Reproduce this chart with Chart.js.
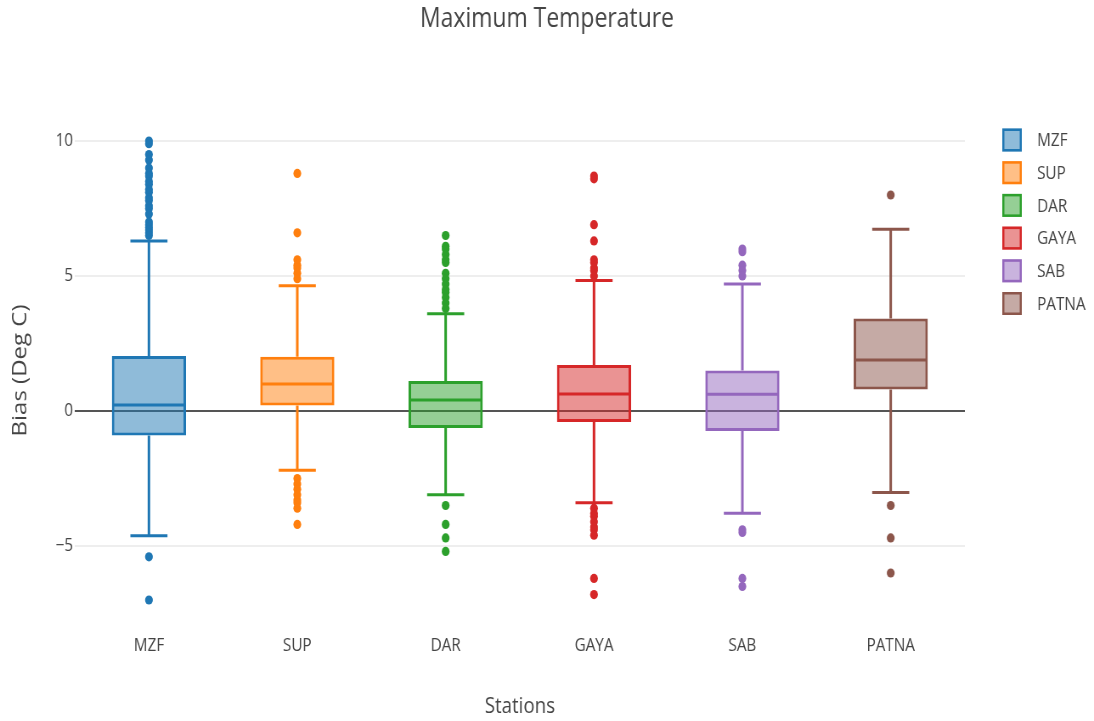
<!DOCTYPE html>
<html>
<head>
<meta charset="utf-8">
<script src="https://cdn.jsdelivr.net/npm/chart.js@4.4.1/dist/chart.umd.min.js"></script>
<style>
  html, body { margin: 0; padding: 0; background: #ffffff; }
  #chart { display: block; width: 1094px; height: 721px; }
</style>
</head>
<body>
<canvas id="chart" width="1288" height="721" style="width:1094px;height:721px"></canvas>
<script>
// Stations and their colours
const stations = ['MZF', 'SUP', 'DAR', 'GAYA', 'SAB', 'PATNA'];
const lineColors = ['#1f77b4', '#ff7f0e', '#2ca02c', '#d62728', '#9467bd', '#8c564b'];
const fillColors = ['rgba(31,119,180,0.5)', 'rgba(255,127,14,0.5)', 'rgba(44,160,44,0.5)',
                    'rgba(214,39,40,0.5)', 'rgba(148,103,189,0.5)', 'rgba(140,86,75,0.5)'];

// Box statistics (bias, deg C)
const lowerFence = [-4.62, -2.19, -3.10, -3.40, -3.79, -3.02];
const q1         = [-0.91,  0.20, -0.63, -0.41, -0.74,  0.80];
const median     = [ 0.22,  1.00,  0.41,  0.63,  0.62,  1.89];
const q3         = [ 2.04,  2.01,  1.11,  1.70,  1.50,  3.43];
const upperFence = [ 6.30,  4.64,  3.60,  4.83,  4.70,  6.73];

// Outlying points per station
const outliersMZF   = [10.0, 9.9, 9.5, 9.3, 9.0, 8.8, 8.7, 8.5, 8.4, 8.2, 8.1, 7.9, 7.8, 7.6, 7.5, 7.3,
                       7.0, 6.9, 6.8, 6.7, 6.6, 6.5, -5.4, -7.0];
const outliersSUP   = [8.8, 6.6, 5.6, 5.4, 5.3, 5.1, 4.9, -2.5, -2.7, -2.9, -3.1, -3.3, -3.4, -3.6, -4.2];
const outliersDAR   = [6.5, 6.1, 6.0, 5.8, 5.6, 5.5, 5.1, 4.9, 4.7, 4.5, 4.4, 4.2, 4.0, 3.8,
                       -3.5, -4.2, -4.7, -5.2];
const outliersGAYA  = [8.7, 8.6, 6.9, 6.3, 5.6, 5.5, 5.3, 5.2, 5.0, -3.6, -3.8, -3.9, -4.1, -4.3,
                       -4.4, -4.6, -6.2, -6.8];
const outliersSAB   = [6.0, 5.9, 5.4, 5.2, 5.0, -4.4, -4.5, -6.2, -6.5];
const outliersPATNA = [8.0, -3.5, -4.7, -6.0];
const outliers = [outliersMZF, outliersSUP, outliersDAR, outliersGAYA, outliersSAB, outliersPATNA];

const yTicks = [-5, 0, 5, 10];

Chart.defaults.font.family = '"Open Sans", "Noto Sans", sans-serif';
Chart.defaults.color = '#444444';

// Boxes: floating bars from q1 to q3, one dataset per station
const boxDatasets = stations.map((name, i) => ({
  type: 'bar',
  label: name,
  stationIndex: i,
  data: stations.map((_, j) => (j === i ? [q1[i], q3[i]] : null)),
  backgroundColor: fillColors[i],
  borderColor: lineColors[i],
  borderWidth: 3,
  borderSkipped: false,
  grouped: false,
  barPercentage: 0.5,
  categoryPercentage: 1.0,
  order: 2
}));

// Outliers: points placed on each station's category
const pointDatasets = stations.map((name, i) => ({
  type: 'line',
  label: name + ' outliers',
  data: outliers[i].map(v => ({ x: name, y: v })),
  showLine: false,
  pointRadius: 4.6,
  pointBorderWidth: 0,
  pointBackgroundColor: lineColors[i],
  borderColor: lineColors[i],
  order: 1
}));

// Median line, whisker stems and caps for each box
const whiskerPlugin = {
  id: 'boxWhiskers',
  afterDatasetDraw(chart, args) {
    const ds = chart.data.datasets[args.index];
    if (ds.type !== 'bar') return;
    const i = ds.stationIndex;
    const bar = args.meta.data[i];
    if (!bar) return;
    const y = chart.scales.y;
    const ctx = chart.ctx;
    const cx = bar.x;
    const half = bar.width / 2;
    const cap = half / 2;
    ctx.save();
    ctx.strokeStyle = lineColors[i];
    ctx.lineWidth = 3;
    ctx.beginPath();
    const ym = y.getPixelForValue(median[i]);
    ctx.moveTo(cx - half + 1.5, ym); ctx.lineTo(cx + half - 1.5, ym);
    const yq3 = y.getPixelForValue(q3[i]);
    const yq1 = y.getPixelForValue(q1[i]);
    const yhi = y.getPixelForValue(upperFence[i]);
    const ylo = y.getPixelForValue(lowerFence[i]);
    ctx.moveTo(cx, yq3); ctx.lineTo(cx, yhi);
    ctx.moveTo(cx, yq1); ctx.lineTo(cx, ylo);
    ctx.moveTo(cx - cap, yhi); ctx.lineTo(cx + cap, yhi);
    ctx.moveTo(cx - cap, ylo); ctx.lineTo(cx + cap, ylo);
    ctx.stroke();
    ctx.restore();
  }
};

// Legend listing each station's box style
const legendPlugin = {
  id: 'boxLegend',
  afterDraw(chart) {
    const ctx = chart.ctx;
    const area = chart.chartArea;
    const x0 = area.right + 44;
    const y0 = area.top + 26;
    const step = 32.7;
    ctx.save();
    ctx.font = '18px "Open Sans", "Noto Sans", sans-serif';
    ctx.textBaseline = 'middle';
    ctx.textAlign = 'left';
    chart.data.datasets.filter(d => d.type === 'bar').forEach((d, k) => {
      const cy = y0 + k * step;
      ctx.fillStyle = d.backgroundColor;
      ctx.fillRect(x0, cy - 11.5, 23, 23);
      ctx.strokeStyle = d.borderColor;
      ctx.lineWidth = 2.5;
      ctx.strokeRect(x0 + 1.25, cy - 10.25, 20.5, 20.5);
      ctx.fillStyle = '#444444';
      ctx.fillText(d.label, x0 + 41, cy + 1);
    });
    ctx.restore();
  }
};

new Chart(document.getElementById('chart'), {
  data: {
    labels: stations,
    datasets: [...boxDatasets, ...pointDatasets]
  },
  options: {
    responsive: false,
    animation: false,
    layout: { padding: 0 },
    plugins: {
      legend: { display: false },
      tooltip: { enabled: false },
      title: {
        display: true,
        text: 'Maximum Temperature',
        color: '#444444',
        font: { size: 27, weight: 'normal' },
        padding: { top: 3, bottom: 78.6 }
      }
    },
    scales: {
      x: {
        type: 'category',
        offset: true,
        grid: { display: false },
        border: { display: false },
        ticks: { color: '#444444', font: { size: 18 }, padding: 0 },
        title: {
          display: true,
          text: 'Stations',
          color: '#444444',
          font: { size: 22 },
          padding: { top: 0, bottom: 1 }
        },
        afterFit(scale) { scale.height = 94; }
      },
      y: {
        min: -8,
        max: 11,
        afterBuildTicks(scale) { scale.ticks = yTicks.map(v => ({ value: v })); },
        grid: {
          drawTicks: false,
          color: ctx => (ctx.tick && ctx.tick.value === 0 ? '#555555' : '#eeeeee'),
          lineWidth: 2
        },
        border: { display: false },
        ticks: {
          color: '#444444',
          font: { size: 18 },
          padding: 2,
          callback: v => (v < 0 ? '\u2212' + Math.abs(v) : String(v))
        },
        title: {
          display: true,
          text: 'Bias (Deg C)',
          color: '#444444',
          font: { size: 24 },
          padding: { top: 10, bottom: 0 }
        },
        afterFit(scale) { scale.width = 88; }
      },
      // empty right-hand column that holds the legend
      legendSpace: {
        type: 'linear',
        position: 'right',
        display: true,
        grid: { display: false, drawTicks: false },
        border: { display: false },
        ticks: { display: false },
        afterFit(scale) { scale.width = 152; }
      }
    }
  },
  plugins: [whiskerPlugin, legendPlugin]
});
</script>
</body>
</html>
